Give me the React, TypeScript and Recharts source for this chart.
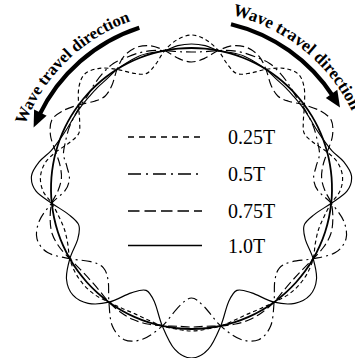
import { LineChart, Line, XAxis, YAxis, Customized } from "recharts";

// sample angles on the right half of the ring, degrees clockwise from the top;
// the left half is drawn as its mirror image
const angles = [
  0, 5.5, 11, 16, 21.5, 27, 32, 37.5, 43, 48, 53.5, 59, 64, 69.5, 75, 80, 85.5,
  91, 96, 102, 108, 114, 120, 126, 132, 138, 144, 150, 156, 162, 168, 174, 180,
];

// radial displacement from the undeformed ring at each angle
const disp025 = [
  13, 9, 0, -11, -17, -11, 0, 11, 16, 11, 0, -10, -15, -10, 0, 8, 11, 8, 0, -5,
  -7, -5, 0, 3, 4, 3, 0, -2, -3, -2, 0, 1, 2,
];
const disp05 = [
  -4, -3, 0, 3, 5, 6, 7, 5, 2, -1, -2, -3, -4, -6, -8, -14, -18, -14, 0, 15, 22,
  17, 0, -16, -22, -16, 0, 18, 25, 18, 0, -22, -31,
];
const disp075 = [
  -14, -10, 0, 8, 11, 8, 0, -10, -14, -10, 0, 10, 15, 10, 0, -7, -10, -7, 0, 4,
  6, 4, 0, -3, -4, -3, 0, 2, 3, 2, 0, -2, -2,
];
const disp10 = [
  4, 3, 0, 1, 2, 1, 0, -2, -2.5, -3, -3, -3, -2.5, 0, 5, 14, 20, 15, 0, -15, -22,
  -16, 0, 14, 19, 14, 0, -20, -29, -21, 0, 21, 29,
];
const dispBase = angles.map(() => 0);

const labels = ["0.25T", "0.5T", "0.75T", "1.0T"];

const RADIUS = 140.5;
const FONT = "'Times New Roman', 'Liberation Serif', serif";

const polar = (deg: number, d: number) => {
  const a = (deg * Math.PI) / 180;
  const r = RADIUS + d;
  return { x: r * Math.sin(a), y: r * Math.cos(a) };
};

// closed loop: left half from the bottom up, then the right half top to bottom
const ring = (disp: number[]) => {
  const pts = [];
  for (let i = angles.length - 2; i >= 1; i--) pts.push(polar(-angles[i], disp[i]));
  for (let i = 0; i < angles.length; i++) pts.push(polar(angles[i], disp[i]));
  return pts;
};

// closed Catmull-Rom spline so the loop has no seam
const closedSpline = (context: any) => {
  let pts: number[][] = [];
  return {
    areaStart() {},
    areaEnd() {},
    lineStart() {
      pts = [];
    },
    lineEnd() {
      const n = pts.length;
      if (n < 3) return;
      context.moveTo(pts[0][0], pts[0][1]);
      for (let i = 0; i < n; i++) {
        const p0 = pts[(i - 1 + n) % n];
        const p1 = pts[i];
        const p2 = pts[(i + 1) % n];
        const p3 = pts[(i + 2) % n];
        context.bezierCurveTo(
          p1[0] + (p2[0] - p0[0]) / 6,
          p1[1] + (p2[1] - p0[1]) / 6,
          p2[0] - (p3[0] - p1[0]) / 6,
          p2[1] - (p3[1] - p1[1]) / 6,
          p2[0],
          p2[1]
        );
      }
      context.closePath();
    },
    point(x: number, y: number) {
      pts.push([+x, +y]);
    },
  };
};

const series = [
  { name: labels[0], data: ring(disp025), dash: "4 3", legendDash: "6 5" },
  { name: labels[1], data: ring(disp05), dash: "10 4 2 4", legendDash: "13 5 2 5" },
  { name: labels[2], data: ring(disp075), dash: "9 4", legendDash: "11.5 5" },
  { name: labels[3], data: ring(disp10), dash: undefined, legendDash: undefined },
];

const legendY = [137, 174, 211, 245.5];

const Annotations = () => (
  <g>
    <defs>
      <path id="leftText" d="M 24.5 126 A 178 178 0 0 1 154.5 14.4" fill="none" />
      <path id="rightText" d="M 228.3 14.2 A 178 178 0 0 1 366.8 158" fill="none" />
    </defs>
    <text fontFamily={FONT} fontWeight="bold" fontSize={16.6} fill="#000">
      <textPath href="#leftText" startOffset={1}>
        Wave travel direction
      </textPath>
    </text>
    <text fontFamily={FONT} fontWeight="bold" fontSize={17.2} fill="#000">
      <textPath href="#rightText" startOffset={4}>
        Wave travel direction
      </textPath>
    </text>
    <path d="M 139.3 27.8 A 169 169 0 0 0 39 115.7" fill="none" stroke="#000" strokeWidth={4.2} />
    <polygon points="33.6,127.4 34.1,109.6 46.6,115.8" fill="#000" />
    <path d="M 231 24.2 A 169 169 0 0 1 333.2 96.5" fill="none" stroke="#000" strokeWidth={4.2} />
    <polygon points="340,107.4 337.3,89.8 325.8,97.9" fill="#000" />
    {series.map((s, i) => (
      <g key={s.name}>
        <line
          x1={128}
          x2={202}
          y1={legendY[i]}
          y2={legendY[i]}
          stroke="#000"
          strokeWidth={1.4}
          strokeDasharray={s.legendDash}
        />
        <text x={228} y={legendY[i] + 7} fontFamily={FONT} fontSize={20} fill="#000">
          {s.name}
        </text>
      </g>
    ))}
  </g>
);

export default function App() {
  return (
    <div style={{ position: "absolute", left: 0, top: 0, background: "#fff" }}>
      <LineChart width={355} height={358} margin={{ top: 0, right: 0, bottom: 0, left: 0 }}>
        <XAxis type="number" dataKey="x" domain={[-191.5, 163.5]} allowDataOverflow hide />
        <YAxis type="number" dataKey="y" domain={[-169.5, 188.5]} allowDataOverflow hide />
        <Line
          data={ring(dispBase)}
          dataKey="y"
          type={closedSpline as any}
          stroke="#000"
          strokeWidth={1.8}
          dot={false}
          activeDot={false}
          isAnimationActive={false}
        />
        {series.map((s) => (
          <Line
            key={s.name}
            name={s.name}
            data={s.data}
            dataKey="y"
            type={closedSpline as any}
            stroke="#000"
            strokeWidth={1.15}
            strokeDasharray={s.dash}
            dot={false}
            activeDot={false}
            isAnimationActive={false}
          />
        ))}
        <Customized component={Annotations} />
      </LineChart>
    </div>
  );
}
